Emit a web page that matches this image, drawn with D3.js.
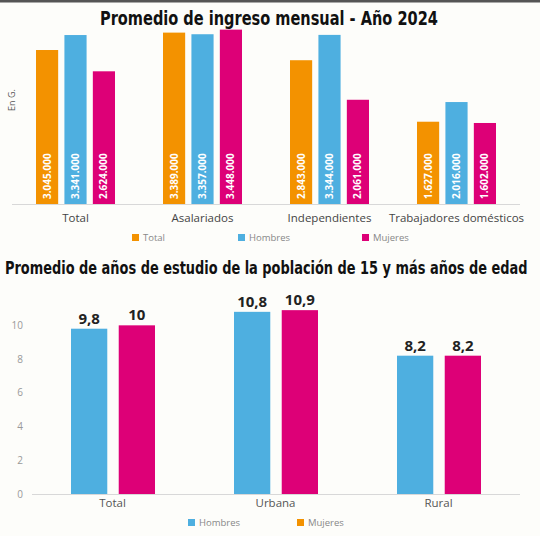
<!DOCTYPE html>
<head>
  <meta charset="utf-8">
  <script src="https://d3js.org/d3.v7.min.js"></script>
  <style>
    body { margin: 0; background: #fdfdfa; }
    text { font-family: "Open Sans", sans-serif; }
    .title { font-family: "Liberation Sans Narrow", "DejaVu Sans Condensed", sans-serif; font-weight: bold; fill: #111; }
  </style>
</head>

<body>
  <script>
  // ingreso mensual (guaraníes)
  var ingresoCats = ["Total", "Asalariados", "Independientes", "Trabajadores domésticos"],
      ingresoSeries = ["Total", "Hombres", "Mujeres"],
      ingresoTotal = [3045000, 3389000, 2843000, 1627000],
      ingresoHombres = [3341000, 3357000, 3344000, 2016000],
      ingresoMujeres = [2624000, 3448000, 2061000, 1602000];

  // años de estudio
  var estudioCats = ["Total", "Urbana", "Rural"],
      estudioSeries = ["Hombres", "Mujeres"],
      estudioHombres = [9.8, 10.8, 8.2],
      estudioMujeres = [10, 10.9, 8.2],
      estudioTicks = [0, 2, 4, 6, 8, 10];

  var orange = "#f39200", blue = "#4eafe0", pink = "#dd0077";

  var fmtMiles = d3.formatLocale({decimal: ",", thousands: ".", grouping: [3]}).format(",d");
  var fmtDec = function(d) { return String(d).replace(".", ","); };

  var svg = d3.select("body").append("svg")
      .attr("width", 540)
      .attr("height", 536);

  svg.append("rect").attr("width", 540).attr("height", 536).attr("fill", "#fdfdfa");
  svg.append("rect").attr("width", 540).attr("height", 2.5).attr("fill", "#555");

  // squeeze a title horizontally to the width it has in the source
  function title(x, y, size, width, str) {
    var g = svg.append("g");
    var t = g.append("text").attr("class", "title")
        .attr("font-size", size)
        .text(str);
    var w = t.node().getComputedTextLength();
    g.attr("transform", "translate(" + x + "," + y + ")scale(" + (width / w) + ",1)");
  }

  // ---------- chart 1 ----------
  var x0 = d3.scaleBand().domain(ingresoCats).range([12, 520]);
  var x1 = d3.scaleBand().domain(ingresoSeries).range([24, 103]).paddingInner(0.22);
  var y1 = d3.scaleLinear().domain([0, 3500000]).range([204, 27]);

  var ingresoRows = ingresoCats.map(function(c, i) {
    return {cat: c, vals: [ingresoTotal[i], ingresoHombres[i], ingresoMujeres[i]]};
  });
  var colors1 = [orange, blue, pink];

  title(100, 25, 20, 338, "Promedio de ingreso mensual - Año 2024");

  svg.append("text")
      .attr("transform", "translate(15,100)rotate(-90)")
      .attr("text-anchor", "middle")
      .attr("font-size", 9)
      .attr("fill", "#555")
      .text("En G.");

  var grp1 = svg.append("g").selectAll("g")
    .data(ingresoRows)
    .enter().append("g")
      .attr("transform", function(d) { return "translate(" + x0(d.cat) + ",0)"; });

  grp1.selectAll("rect")
    .data(function(d) { return d.vals; })
    .enter().append("rect")
      .attr("x", function(d, i) { return x1(ingresoSeries[i]); })
      .attr("width", x1.bandwidth())
      .attr("y", function(d) { return y1(d); })
      .attr("height", function(d) { return y1(0) - y1(d); })
      .attr("fill", function(d, i) { return colors1[i]; });

  grp1.selectAll("text.val")
    .data(function(d) { return d.vals; })
    .enter().append("text")
      .attr("class", "val")
      .attr("transform", function(d, i) {
        return "translate(" + (x1(ingresoSeries[i]) + x1.bandwidth() / 2 + 3.5) + "," + (y1(0) - 5) + ")rotate(-90)";
      })
      .attr("font-family", "Roboto, sans-serif")
      .attr("font-weight", "bold")
      .attr("font-size", 10)
      .attr("fill", "#fff")
      .text(function(d) { return fmtMiles(d); });

  svg.append("line")
      .attr("x1", 12).attr("x2", 520)
      .attr("y1", y1(0) + 0.5).attr("y2", y1(0) + 0.5)
      .attr("stroke", "#d8d8d8");

  svg.append("g").selectAll("text")
    .data(ingresoCats)
    .enter().append("text")
      .attr("x", function(d) { return x0(d) + x0.bandwidth() / 2; })
      .attr("y", 222)
      .attr("text-anchor", "middle")
      .attr("font-size", 11.5)
      .attr("fill", "#444")
      .text(function(d) { return d; });

  var leg1X = [132, 238, 362];
  var leg1 = svg.append("g").selectAll("g")
    .data(ingresoSeries)
    .enter().append("g")
      .attr("transform", function(d, i) { return "translate(" + leg1X[i] + ",234)"; });
  leg1.append("rect").attr("width", 7).attr("height", 7).attr("fill", function(d, i) { return colors1[i]; });
  leg1.append("text").attr("x", 11).attr("y", 7).attr("font-size", 9.5).attr("fill", "#888")
      .text(function(d) { return d; });

  // ---------- chart 2 ----------
  var xb0 = d3.scaleBand().domain(estudioCats).range([31, 520]);
  var xb1 = d3.scaleBand().domain(estudioSeries).range([40, 124]).paddingInner(0.24);
  var y2 = d3.scaleLinear().domain([0, 12]).range([494, 291.6]);

  var estudioRows = estudioCats.map(function(c, i) {
    return {cat: c, vals: [estudioHombres[i], estudioMujeres[i]]};
  });
  var colors2 = [blue, pink];

  title(5, 274, 18, 523, "Promedio de años de estudio de la población de 15 y más años de edad");

  svg.append("g").selectAll("text")
    .data(estudioTicks)
    .enter().append("text")
      .attr("x", 23)
      .attr("y", function(d) { return y2(d) + 3.5; })
      .attr("text-anchor", "end")
      .attr("font-size", 10)
      .attr("fill", "#999")
      .text(function(d) { return d; });

  var grp2 = svg.append("g").selectAll("g")
    .data(estudioRows)
    .enter().append("g")
      .attr("transform", function(d) { return "translate(" + xb0(d.cat) + ",0)"; });

  grp2.selectAll("rect")
    .data(function(d) { return d.vals; })
    .enter().append("rect")
      .attr("x", function(d, i) { return xb1(estudioSeries[i]); })
      .attr("width", xb1.bandwidth())
      .attr("y", function(d) { return y2(d); })
      .attr("height", function(d) { return y2(0) - y2(d); })
      .attr("fill", function(d, i) { return colors2[i]; });

  grp2.selectAll("text")
    .data(function(d) { return d.vals; })
    .enter().append("text")
      .attr("x", function(d, i) { return xb1(estudioSeries[i]) + xb1.bandwidth() / 2; })
      .attr("y", function(d) { return y2(d) - 5; })
      .attr("text-anchor", "middle")
      .attr("font-family", "Roboto, sans-serif")
      .attr("font-weight", "bold")
      .attr("font-size", 15)
      .attr("fill", "#222")
      .text(function(d) { return fmtDec(d); });

  svg.append("line")
      .attr("x1", 32).attr("x2", 520)
      .attr("y1", y2(0) + 0.5).attr("y2", y2(0) + 0.5)
      .attr("stroke", "#d8d8d8");

  svg.append("g").selectAll("text")
    .data(estudioCats)
    .enter().append("text")
      .attr("x", function(d) { return xb0(d) + xb0.bandwidth() / 2; })
      .attr("y", 507)
      .attr("text-anchor", "middle")
      .attr("font-size", 11.5)
      .attr("fill", "#555")
      .text(function(d) { return d; });

  // the legend in the source shows Mujeres in orange
  var leg2Colors = [blue, orange];
  var leg2X = [188, 297];
  var leg2 = svg.append("g").selectAll("g")
    .data(estudioSeries)
    .enter().append("g")
      .attr("transform", function(d, i) { return "translate(" + leg2X[i] + ",519)"; });
  leg2.append("rect").attr("width", 7).attr("height", 7).attr("fill", function(d, i) { return leg2Colors[i]; });
  leg2.append("text").attr("x", 11).attr("y", 7).attr("font-size", 9.5).attr("fill", "#888")
      .text(function(d) { return d; });
  </script>
</body>
